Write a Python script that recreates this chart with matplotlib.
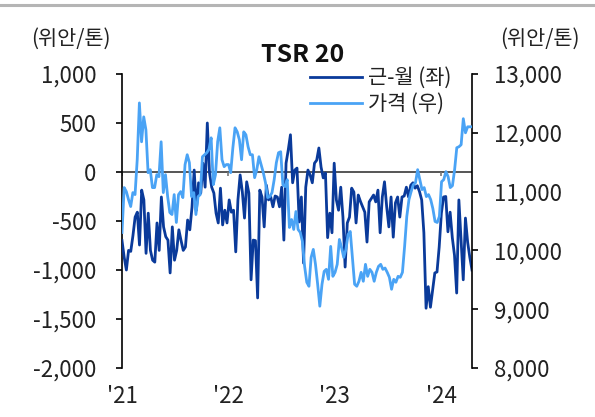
import numpy as np
import pandas as pd
import matplotlib
matplotlib.use('Agg')
import matplotlib.pyplot as plt
from matplotlib.lines import Line2D

plt.rcParams['font.family'] = ['Noto Sans CJK KR', 'DejaVu Sans']

# 근-월 스프레드 (좌축, 위안/톤)
spread = [
    -700, -870, -1000, -800, -810, -650, -460, -410, -745, -185,
    -285, -830, -420, -800, -900, -920, -520, -800, -255, -560,
    -660, -695, -1030, -560, -900, -800, -590, -700, -800, -765,
    -490, -590, -360, 20, -390, -110, -215, 90, -155, 500,
    -10, -155, -215, -420, -520, -165, -540, -390, -520, -285,
    -410, -390, -815, -285, -30, -200, -470, -100, -215, -1100,
    -695, -700, -1285, -185, -255, -560, -135, -285, -255, -355,
    -245, -255, -355, -155, -695, 90, 225, 380, -110, 20,
    40, -510, -255, -930, -155, 20, -30, -110, 90, 120,
    245, 50, -60, -10, -670, -420, -620, 90, -285, -390,
    -155, -460, -970, -520, -460, -165, -205, -520, -235, -300,
    -355, -410, -715, -305, -270, -235, -305, -185, -620, -255,
    -100, -355, -560, -255, -665, -315, -255, -460, -255, -245,
    -155, -255, -135, -110, -165, -140, -200, -285, -620, -1390,
    -1170, -1380, -1205, -1030, -1020, -765, -420, -255, -250, -610,
    -410, -670, -850, -1235, -285, -700, -1100, -470, -715, -870,
    -1000,
]

# 가격 (우축, 위안/톤)
price = [
    10305, 11068, 11000, 10864, 10746, 10983, 10949, 11542, 12508, 11847,
    12271, 12050, 11322, 11373, 11068, 11068, 11288, 11254, 11847, 10983,
    11288, 10915, 10644, 10610, 10949, 10475, 10949, 11000, 10898, 11458,
    11627, 11492, 10915, 10983, 10610, 10915, 10949, 11593, 11627, 11661,
    11720, 11915, 11118, 11288, 11847, 12085, 11542, 11424, 11460, 11460,
    11322, 11746, 12085, 12017, 11881, 11542, 12017, 11966, 11763, 11627,
    11627, 11237, 11373, 11593, 11458, 11322, 11152, 10898, 10915, 10983,
    11203, 11492, 11661, 11678, 11118, 11085, 11203, 10390, 10525, 10356,
    10661, 10356, 10305, 10153, 9729, 9458, 9390, 9881, 10017, 9763,
    9424, 9051, 9424, 9644, 9678, 9508, 10068, 9559, 9627, 9763,
    10186, 10050, 9881, 10017, 10271, 10322, 9881, 9424, 9390, 9475,
    9627, 9475, 9763, 9559, 9678, 9627, 9475, 9627, 9729, 9763,
    9678, 9700, 9627, 9542, 9339, 9508, 9458, 9559, 9542, 9627,
    10068, 10576, 10864, 11000, 11118, 11150, 11373, 11203, 11034, 11068,
    10915, 10949, 10864, 10710, 10492, 10475, 10576, 11169, 11203, 11339,
    11254, 11068, 11100, 11373, 11746, 11763, 11797, 12240, 12000, 12102,
    12102, 12102,
]

start, end = '2021-01-01', '2024-04-16'
spread_dates = pd.date_range(start, end, periods=len(spread))
price_dates = pd.date_range(start, end, periods=len(price))

year_ticks = pd.to_datetime(['2021-01-01', '2022-01-01', '2023-01-01', '2024-01-01'])
year_labels = ["'21", "'22", "'23", "'24"]
left_ticks = [-2000, -1500, -1000, -500, 0, 500, 1000]
right_ticks = [8000, 9000, 10000, 11000, 12000, 13000]

dark = '#0a3a9a'
light = '#4aa3f5'
txt = '#222222'

fig = plt.figure(figsize=(5.95, 4.17), dpi=100)
ax = fig.add_axes([122 / 595, 1 - 368 / 417, 350 / 595, 294 / 417])
ax2 = ax.twinx()

ax.axhline(0, color='#555555', lw=1.4, zorder=1)
ax.vlines(year_ticks, -45, 0, color='#777777', lw=1.2, zorder=1)

l1, = ax.plot(spread_dates, spread, color=dark, lw=2.0, label='근-월 (좌)', zorder=3)
l2, = ax2.plot(price_dates, price, color=light, lw=2.0, label='가격 (우)', zorder=3)

ax.set_xlim(pd.Timestamp(start), pd.Timestamp(end))
ax.set_ylim(-2000, 1000)
ax2.set_ylim(8000, 13000)

ax.set_yticks(left_ticks)
ax.set_yticklabels([f'{v:,}' for v in left_ticks])
ax2.set_yticks(right_ticks)
ax2.set_yticklabels([f'{v:,}' for v in right_ticks])
ax.set_xticks(year_ticks)
ax.set_xticklabels(year_labels)

for a in (ax, ax2):
    for s in ('top', 'bottom'):
        a.spines[s].set_visible(False)
ax.spines['right'].set_visible(False)
ax2.spines['left'].set_visible(False)
ax.spines['left'].set_linewidth(1.2)
ax2.spines['right'].set_linewidth(1.2)

ax.tick_params(axis='y', direction='out', length=4.5, width=1.2, pad=14, labelsize=16, labelcolor=txt)
ax2.tick_params(axis='y', direction='out', length=4.5, width=1.2, pad=11, labelsize=16, labelcolor=txt)
ax.tick_params(axis='x', length=0, pad=12, labelsize=16, labelcolor=txt)

fig.text(71 / 595, 1 - 39 / 417, '(위안/톤)', ha='center', va='center', fontsize=15, color=txt)
fig.text(540 / 595, 1 - 39 / 417, '(위안/톤)', ha='center', va='center', fontsize=15, color=txt)
fig.text(303 / 595, 1 - 55 / 417, 'TSR 20', ha='center', va='center', fontsize=18,
         fontweight='bold', color='#111111')

fig.legend(handles=[l1, l2], loc='upper left', bbox_to_anchor=(310 / 595, 1 - 67 / 417),
           frameon=False, fontsize=15, handlelength=2.5, handletextpad=0.3,
           labelspacing=0.2, borderpad=0, borderaxespad=0, labelcolor=txt)

# 상단 회색 구분선
fig.add_artist(Line2D([0, 1], [1 - 5 / 417, 1 - 5 / 417], color='#b5b5b5', lw=2.2,
                      transform=fig.transFigure))

fig.savefig('out.png', dpi=100)
